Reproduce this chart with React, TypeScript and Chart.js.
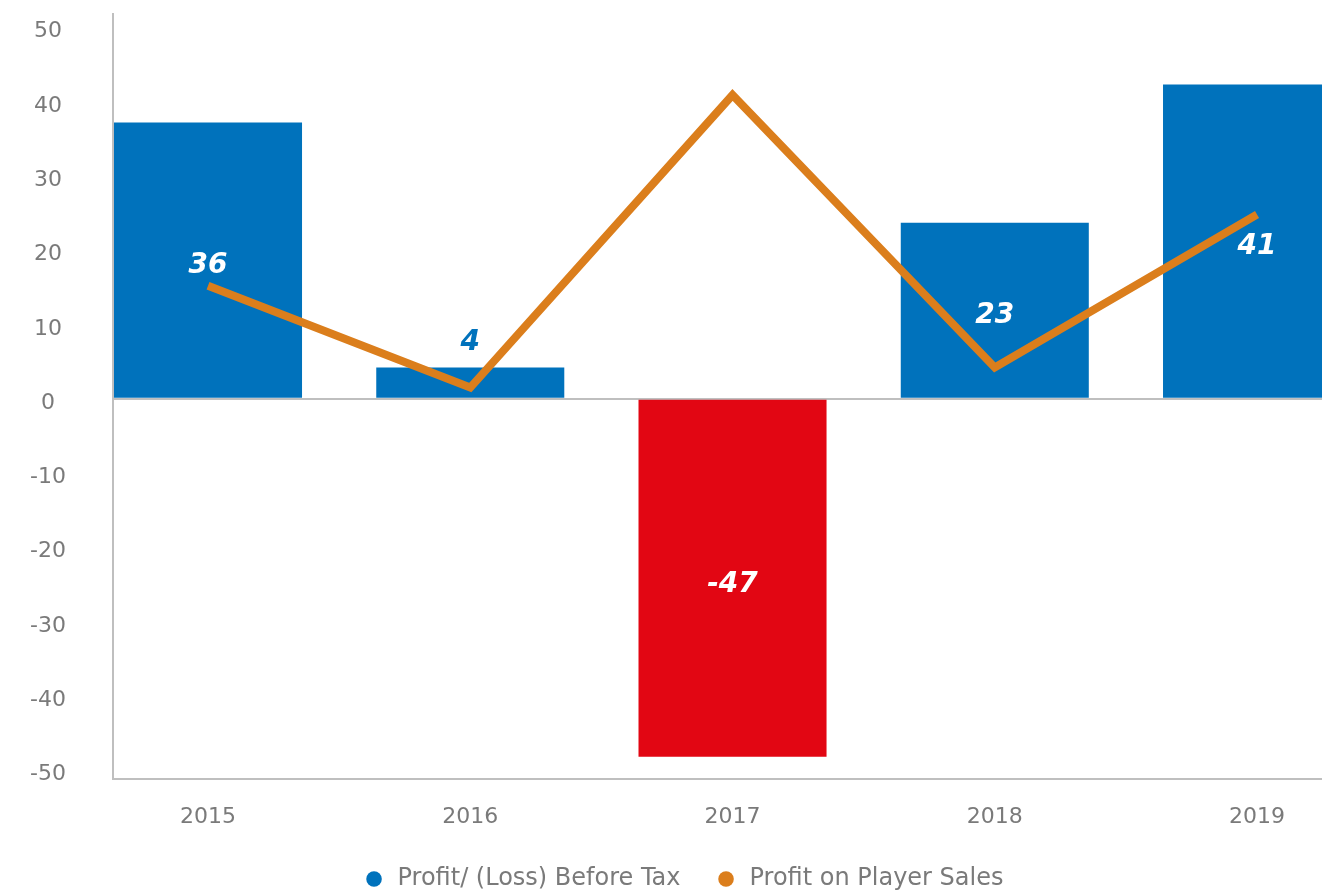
import React, { useEffect, useRef } from "react";
import { Chart, registerables } from "chart.js";

Chart.register(...registerables);

const years = ["2015", "2016", "2017", "2018", "2019"];
const profitBeforeTax = [37.2, 4.2, -48.2, 23.7, 42.3];
const profitLabels = ["36", "4", "-47", "23", "41"];
const playerSales = [15.2, 1.5, 40.9, 4.2, 24.8];

const BLUE = "#0072BC";
const RED = "#E20613";
const ORANGE = "#DB7E1C";
const AXIS = "#bfbfbf";
const TEXT = "#7a7a7a";
const FONT = '"DejaVu Sans", sans-serif';

const dataLabelPlugin = {
  id: "dataLabels",
  afterDatasetsDraw(chart: any) {
    const meta = chart.getDatasetMeta(0);
    const ctx = chart.ctx;
    ctx.save();
    ctx.font = `italic bold 28px ${FONT}`;
    ctx.textAlign = "center";
    ctx.textBaseline = "middle";
    meta.data.forEach((el: any, i: number) => {
      const h = Math.abs(el.base - el.y);
      const v = profitBeforeTax[i];
      if (h < 50) {
        ctx.fillStyle = v < 0 ? RED : BLUE;
        ctx.fillText(profitLabels[i], el.x, Math.min(el.y, el.base) - 25);
      } else {
        ctx.fillStyle = "#ffffff";
        ctx.fillText(profitLabels[i], el.x, (el.y + el.base) / 2 + 6);
      }
    });
    ctx.restore();
  },
};

export default function App() {
  const ref = useRef<HTMLCanvasElement | null>(null);

  useEffect(() => {
    if (!ref.current) return;
    const chart = new Chart(ref.current, {
      type: "bar",
      data: {
        datasets: [
          {
            type: "bar",
            label: "Profit/ (Loss) Before Tax",
            data: profitBeforeTax.map((v, i) => ({ x: i, y: v })),
            backgroundColor: profitBeforeTax.map((v) => (v < 0 ? RED : BLUE)),
            borderWidth: 0,
            barPercentage: 0.717,
            categoryPercentage: 1,
            order: 2,
          } as any,
          {
            type: "line",
            label: "Profit on Player Sales",
            data: playerSales.map((v, i) => ({ x: i, y: v })),
            borderColor: ORANGE,
            backgroundColor: ORANGE,
            borderWidth: 8,
            pointRadius: 0,
            pointHoverRadius: 0,
            tension: 0,
            borderCapStyle: "butt",
            borderJoinStyle: "miter",
            fill: false,
            order: 1,
          } as any,
        ],
      },
      options: {
        animation: false,
        responsive: false,
        maintainAspectRatio: false,
        layout: { padding: { top: 14, left: 0, right: 0, bottom: 0 } },
        plugins: {
          tooltip: { enabled: false },
          legend: {
            position: "bottom",
            labels: {
              usePointStyle: true,
              pointStyle: "circle",
              boxWidth: 23,
              boxHeight: 11,
              padding: 34,
              color: TEXT,
              font: { family: FONT, size: 24 },
              sort: (a: any, b: any) => a.datasetIndex - b.datasetIndex,
              generateLabels: (chart: any) => {
                const items = Chart.defaults.plugins.legend.labels.generateLabels(chart);
                return items.map((it: any) => ({
                  ...it,
                  fillStyle: it.datasetIndex === 0 ? BLUE : ORANGE,
                  strokeStyle: it.datasetIndex === 0 ? BLUE : ORANGE,
                  lineWidth: 0,
                }));
              },
            },
          },
        },
        scales: {
          x: {
            type: "linear",
            offset: false,
            min: -0.3623,
            max: 4.4155,
            grid: { display: false, drawTicks: false },
            border: { display: true, color: AXIS, width: 2 },
            ticks: {
              stepSize: 1,
              includeBounds: false,
              autoSkip: false,
              maxRotation: 0,
              padding: 25,
              color: TEXT,
              font: { family: FONT, size: 22 },
              callback: (v: any) => years[v as number] ?? "",
            },
            afterFit: (scale: any) => {
              scale.height = 54;
              scale.paddingLeft = 0;
              scale.paddingRight = 0;
            },
          },
          y: {
            type: "linear",
            min: -51.2,
            max: 51.8,
            grid: {
              display: true,
              drawTicks: false,
              color: (c: any) => (c.tick && c.tick.value === 0 ? AXIS : "rgba(0,0,0,0)"),
              lineWidth: 2,
            },
            border: { display: true, color: AXIS, width: 2 },
            ticks: {
              stepSize: 10,
              includeBounds: false,
              crossAlign: "center",
              padding: 47,
              color: TEXT,
              font: { family: FONT, size: 22, lineHeight: 0.4 },
              callback: (v: any) => ["", String(v)],
            },
            afterFit: (scale: any) => {
              scale.width = 113;
              scale.paddingTop = 0;
              scale.paddingBottom = 0;
            },
          },
        },
      } as any,
      plugins: [dataLabelPlugin],
    });
    return () => chart.destroy();
  }, []);

  return (
    <div
      style={{
        position: "fixed",
        left: 0,
        top: 0,
        width: 1322,
        height: 896,
        overflow: "hidden",
        background: "#ffffff",
      }}
    >
      <canvas ref={ref} width={1366} height={901} style={{ width: 1366, height: 901, display: "block" }} />
    </div>
  );
}
